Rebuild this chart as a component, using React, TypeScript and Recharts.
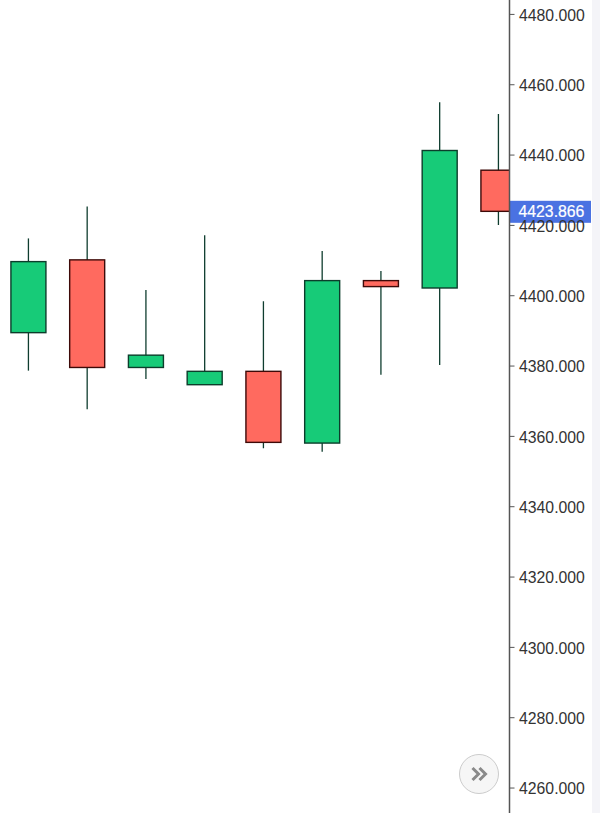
import { ComposedChart, Bar, XAxis, YAxis, ReferenceLine } from "recharts";

const slots = [0, 1, 2, 3, 4, 5, 6, 7, 8];
const opens = [4389.5, 4410.2, 4379.6, 4374.7, 4378.5, 4358.1, 4404.3, 4402.2, 4435.7];
const closes = [4409.7, 4379.6, 4383.1, 4378.5, 4358.3, 4404.3, 4402.6, 4441.3, 4424.0];
const highs = [4416.3, 4425.4, 4401.6, 4417.2, 4398.4, 4412.7, 4407.0, 4455.0, 4451.7];
const lows = [4378.7, 4367.7, 4376.3, 4374.7, 4356.6, 4355.6, 4377.5, 4380.3, 4420.1];
const priceTicks = [4260, 4280, 4300, 4320, 4340, 4360, 4380, 4400, 4420, 4440, 4460, 4480];
const lastPrice = 4423.866;

const data = slots.map((slot, i) => ({
  slot,
  open: opens[i],
  close: closes[i],
  range: [lows[i], highs[i]],
}));

const UP_FILL = "#17cb78";
const DOWN_FILL = "#ff6a5f";

function Candle(props: any) {
  const { x, y, width, height, payload } = props;
  const [low, high] = payload.range;
  const top = Math.min(y, y + height);
  const pxPerUnit = Math.abs(height) / (high - low);
  const up = payload.close >= payload.open;
  const bodyTop = top + (high - Math.max(payload.open, payload.close)) * pxPerUnit;
  const bodyBottom = top + (high - Math.min(payload.open, payload.close)) * pxPerUnit;
  const mid = x + width / 2;
  const edge = up ? "#0c3d2b" : "#3d0a08";
  return (
    <g>
      <line x1={mid} x2={mid} y1={top} y2={top + Math.abs(height)} stroke="#0f3d2f" strokeWidth={1.3} />
      <rect
        x={x}
        y={bodyTop}
        width={width}
        height={bodyBottom - bodyTop}
        fill={up ? UP_FILL : DOWN_FILL}
        stroke={edge}
        strokeWidth={1.4}
      />
    </g>
  );
}

function PriceTag(props: any) {
  const { viewBox } = props;
  const left = viewBox.x + viewBox.width + 0.5;
  return (
    <g>
      <rect x={left} y={viewBox.y - 11} width={81} height={22} fill="#4a72e2" />
      <text
        x={left + 8.5}
        y={viewBox.y + 5.5}
        fill="#ffffff"
        stroke="#ffffff"
        strokeWidth={0.2}
        fontSize={15.8}
        fontFamily="Liberation Sans"
      >
        {lastPrice.toFixed(3)}
      </text>
    </g>
  );
}

export default function App() {
  return (
    <div
      style={{
        position: "absolute",
        left: 0,
        top: 0,
        width: 600,
        height: 813,
        overflow: "hidden",
        background: "#ffffff",
      }}
    >
      <div style={{ position: "absolute", left: 592, top: 0, width: 8, height: 813, background: "#f4f4f8" }} />
      <ComposedChart
        width={600}
        height={813}
        data={data}
        margin={{ top: 0, right: 0, bottom: 0, left: 0 }}
        style={{ position: "absolute", left: 0, top: 0 }}
      >
        <XAxis
          dataKey="slot"
          type="number"
          hide
          domain={[-0.4817, 8.1906]}
          allowDataOverflow
        />
        <YAxis
          orientation="right"
          width={90.5}
          domain={[4252.9, 4484.1]}
          ticks={priceTicks}
          interval={0}
          tickFormatter={(v: number) => v.toFixed(3)}
          tick={{ fill: "#333333", fontSize: 15.8, fontFamily: "Liberation Sans", dy: 0.7 }}
          tickSize={5}
          tickMargin={4.5}
          axisLine={{ stroke: "#555555", strokeWidth: 1.5 }}
          tickLine={{ stroke: "#555555" }}
        />
        <Bar dataKey="range" barSize={35} shape={<Candle />} isAnimationActive={false} />
        <ReferenceLine y={lastPrice} stroke="none" label={<PriceTag />} />
      </ComposedChart>
      <div
        style={{
          position: "absolute",
          left: 459,
          top: 754,
          width: 38,
          height: 38,
          borderRadius: "50%",
          border: "1px solid #cccccc",
          background: "#f6f6f6",
        }}
      >
        <svg width={38} height={38} style={{ display: "block" }}>
          <path
            d="M 12.5 13 L 18.5 19 L 12.5 25 M 19.5 13 L 25.5 19 L 19.5 25"
            fill="none"
            stroke="#8a8a8a"
            strokeWidth={3}
          />
        </svg>
      </div>
    </div>
  );
}
